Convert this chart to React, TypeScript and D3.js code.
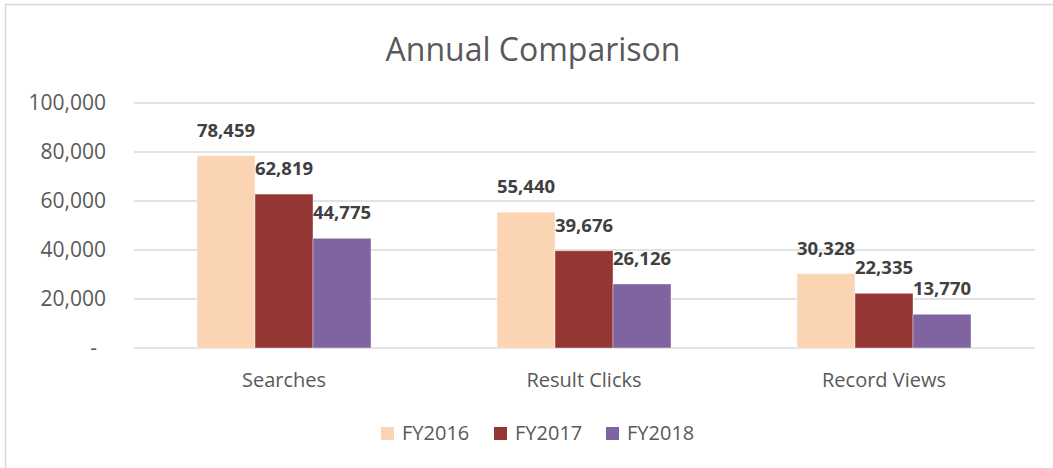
import React from "react";
import * as d3 from "d3";

const categories = ["Searches", "Result Clicks", "Record Views"];
const seriesNames = ["FY2016", "FY2017", "FY2018"];
const fy2016 = [78459, 55440, 30328];
const fy2017 = [62819, 39676, 22335];
const fy2018 = [44775, 26126, 13770];
const yTicks = [0, 20000, 40000, 60000, 80000, 100000];
const colors = ["#FBD4B4", "#943634", "#8064A2"];

const W = 1053;
const H = 468;
const FONT = "'Open Sans', 'Liberation Sans', sans-serif";

export default function App() {
  const series = [fy2016, fy2017, fy2018];
  const x0 = d3.scaleBand<string>().domain(categories).range([134, 1034]).paddingInner(0).paddingOuter(0);
  const groupW = 174;
  const x1 = d3.scaleBand<string>().domain(seriesNames).range([0, groupW]).padding(0);
  const y = d3.scaleLinear().domain([0, 100000]).range([348, 103]);
  const fmt = d3.format(",");

  return (
    <svg width={W} height={H} style={{ position: "absolute", left: 0, top: 0, background: "#fff" }}>
      <rect x={5.5} y={4.5} width={1060} height={470} fill="#fff" stroke="#D9D9D9" strokeWidth={1.5} />
      <text x={533} y={61} textAnchor="middle" fontFamily={FONT} fontSize={32} fill="#595959">
        Annual Comparison
      </text>
      {yTicks.map((t) => (
        <g key={t}>
          <line x1={134} x2={1035} y1={y(t)} y2={y(t)} stroke="#D9D9D9" strokeWidth={1.5} />
          <text
            x={t === 0 ? 97 : 106}
            y={y(t)}
            dy="0.35em"
            textAnchor="end"
            fontFamily={FONT}
            fontSize={21}
            fill="#595959"
          >
            {t === 0 ? "-" : fmt(t)}
          </text>
        </g>
      ))}
      {categories.map((c, ci) => {
        const gx = (x0(c) as number) + (x0.bandwidth() - groupW) / 2;
        return (
          <g key={c}>
            {seriesNames.map((s, si) => {
              const v = series[si][ci];
              const bx = gx + (x1(s) as number);
              const bw = x1.bandwidth();
              return (
                <g key={s}>
                  <rect
                    x={bx}
                    y={y(v)}
                    width={bw}
                    height={y(0) - y(v)}
                    fill={colors[si]}
                    stroke="#fff"
                    strokeOpacity={0.5}
                    strokeWidth={0.75}
                  />
                  <text
                    x={bx + bw / 2}
                    y={y(v) - 19}
                    textAnchor="middle"
                    fontFamily={FONT}
                    fontSize={18.5}
                    fontWeight="bold"
                    fill="#404040"
                  >
                    {fmt(v)}
                  </text>
                </g>
              );
            })}
            <text
              x={(x0(c) as number) + x0.bandwidth() / 2}
              y={387}
              textAnchor="middle"
              fontFamily={FONT}
              fontSize={20}
              fill="#595959"
            >
              {c}
            </text>
          </g>
        );
      })}
      {seriesNames.map((s, si) => {
        const lx = [381, 494, 606][si];
        return (
          <g key={s}>
            <rect x={lx} y={427} width={13} height={13} fill={colors[si]} />
            <text x={lx + 21} y={433} dy="0.35em" fontFamily={FONT} fontSize={20} fill="#595959">
              {s}
            </text>
          </g>
        );
      })}
    </svg>
  );
}
